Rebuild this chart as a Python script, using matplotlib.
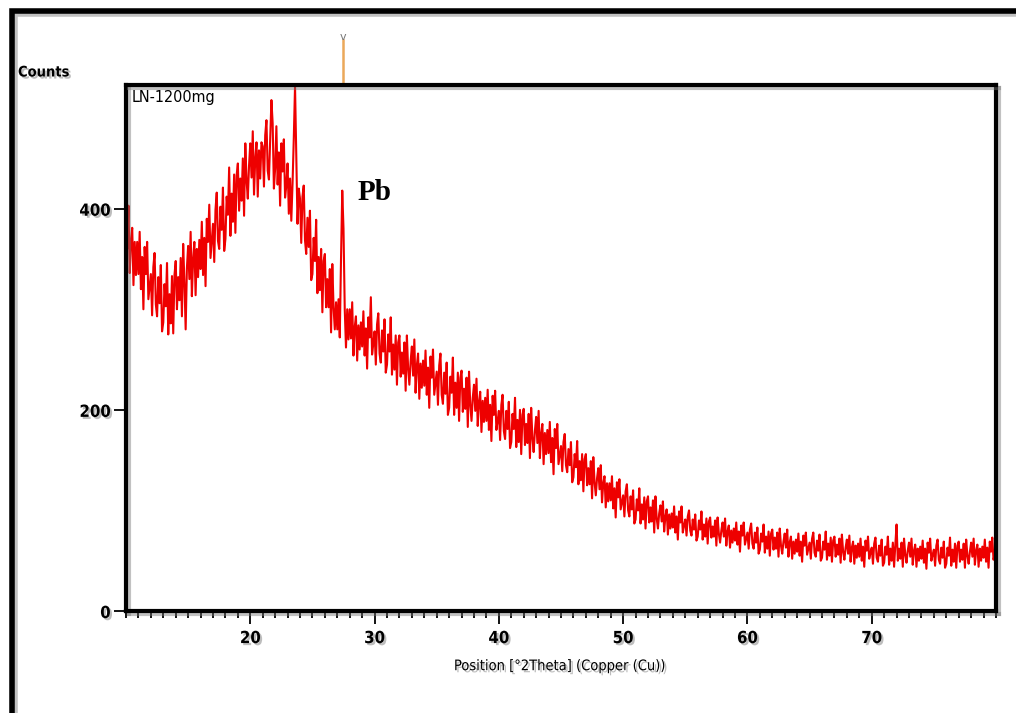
import matplotlib
matplotlib.use("Agg")
import matplotlib.pyplot as plt
import matplotlib.patheffects as pe
from matplotlib.lines import Line2D
from matplotlib.ticker import MultipleLocator
import numpy as np

# ---- data, one row per degree 2theta ----
x_start = 10.0
x_step = 0.1
counts = [
    397, 360, 403, 336, 368, 381, 324, 367, 334, 367,   # 10
    335, 377, 320, 352, 300, 362, 335, 367, 310, 322,   # 11
    335, 294, 342, 356, 305, 293, 332, 306, 344, 278,   # 12
    287, 325, 303, 346, 275, 315, 286, 333, 276, 334,   # 13
    348, 300, 332, 309, 351, 293, 365, 327, 280, 341,   # 14
    363, 330, 377, 313, 350, 367, 314, 360, 332, 369,   # 15
    340, 387, 334, 371, 323, 390, 367, 404, 351, 368,   # 16
    385, 347, 399, 416, 368, 360, 402, 379, 421, 358,   # 17
    370, 412, 394, 441, 373, 415, 387, 434, 376, 433,   # 18
    445, 398, 430, 408, 450, 393, 465, 428, 410, 443,   # 19
    465, 431, 477, 414, 450, 466, 412, 458, 430, 466,   # 20
    462, 422, 473, 488, 438, 429, 469, 508, 485, 420,   # 21
    440, 482, 424, 456, 403, 465, 437, 469, 411, 423,   # 22
    445, 395, 430, 388, 425, 470, 522, 455, 385, 420,   # 23
    410, 366, 412, 423, 369, 355, 391, 362, 398, 329,   # 24
    335, 371, 348, 389, 316, 352, 319, 360, 297, 348,   # 25
    355, 302, 330, 302, 340, 277, 345, 302, 280, 307,   # 26
    280, 310, 272, 350, 418, 380, 300, 262, 300, 270,   # 27
    300, 271, 307, 254, 282, 293, 249, 284, 260, 287,   # 28
    263, 298, 254, 281, 241, 292, 272, 312, 255, 266,   # 29
    278, 245, 285, 296, 256, 247, 279, 258, 290, 237,   # 30
    245, 275, 258, 292, 235, 265, 240, 274, 225, 267,   # 31
    274, 233, 257, 236, 267, 219, 274, 241, 225, 248,   # 32
    263, 234, 270, 217, 244, 256, 211, 246, 222, 249,   # 33
    224, 259, 215, 242, 202, 253, 232, 260, 215, 227,   # 34
    238, 205, 244, 256, 215, 206, 237, 216, 247, 195,   # 35
    202, 233, 217, 252, 195, 227, 202, 237, 189, 232,   # 36
    239, 198, 221, 201, 232, 183, 238, 205, 189, 212,   # 37
    225, 199, 231, 184, 208, 218, 178, 209, 188, 212,   # 38
    189, 220, 180, 205, 169, 214, 195, 219, 180, 189,   # 39
    199, 170, 205, 215, 179, 171, 199, 181, 208, 162,   # 40
    168, 196, 181, 212, 163, 190, 168, 200, 156, 195,   # 41
    201, 165, 186, 167, 196, 152, 202, 172, 158, 179,   # 42
    193, 167, 199, 152, 176, 186, 146, 177, 156, 180,   # 43
    157, 188, 148, 172, 136, 181, 162, 186, 146, 155,   # 44
    164, 139, 168, 176, 145, 138, 161, 145, 168, 128,   # 45
    133, 156, 143, 169, 126, 149, 130, 156, 119, 151,   # 46
    156, 125, 142, 126, 149, 112, 153, 128, 115, 132,   # 47
    142, 121, 145, 108, 127, 134, 103, 127, 109, 127,   # 48
    110, 134, 102, 122, 93, 128, 113, 131, 101, 108,    # 49
    115, 94, 119, 126, 100, 94, 114, 101, 120, 87,      # 50
    91, 111, 100, 122, 87, 106, 91, 113, 82, 109,       # 51
    114, 88, 103, 89, 110, 78, 114, 92, 82, 97,         # 52
    105, 89, 109, 79, 94, 101, 76, 96, 82, 97,          # 53
    83, 104, 78, 94, 71, 99, 88, 104, 78, 85,           # 54
    91, 75, 94, 100, 80, 75, 91, 81, 96, 70,            # 55
    74, 90, 81, 99, 71, 86, 74, 92, 67, 89,             # 56
    93, 73, 84, 74, 90, 65, 93, 77, 68, 80,             # 57
    88, 74, 92, 65, 79, 85, 63, 80, 68, 82,             # 58
    70, 88, 66, 79, 59, 85, 75, 88, 66, 72,             # 59
    78, 62, 81, 87, 67, 62, 78, 68, 83, 57,             # 60
    61, 77, 69, 86, 58, 74, 62, 79, 55, 77,             # 61
    81, 61, 73, 62, 78, 54, 82, 65, 57, 69,             # 62
    77, 63, 81, 54, 68, 74, 52, 69, 57, 71,             # 63
    59, 77, 55, 69, 49, 75, 65, 78, 56, 62,             # 64
    68, 52, 72, 78, 58, 54, 70, 60, 76, 50,             # 65
    53, 69, 61, 79, 51, 67, 55, 73, 49, 70,             # 66
    74, 54, 66, 56, 72, 48, 76, 59, 51, 63,             # 67
    71, 57, 75, 49, 63, 69, 47, 65, 53, 67,             # 68
    54, 72, 50, 64, 44, 70, 60, 74, 52, 58,             # 69
    63, 47, 67, 73, 53, 49, 65, 55, 71, 45,             # 70
    48, 64, 56, 74, 46, 62, 50, 68, 44, 66,             # 71
    86, 50, 62, 52, 68, 44, 72, 56, 48, 60,             # 72
    68, 54, 72, 46, 60, 66, 44, 62, 50, 64,             # 73
    52, 70, 48, 62, 42, 68, 58, 72, 50, 56,             # 74
    61, 45, 65, 71, 51, 47, 63, 53, 69, 43,             # 75
    47, 63, 55, 73, 45, 61, 49, 67, 43, 65,             # 76
    69, 49, 61, 51, 67, 43, 71, 55, 47, 59,             # 77
    68, 54, 72, 46, 60, 66, 44, 62, 50, 64,             # 78
    53, 71, 49, 63, 43, 69, 59, 73, 51, 57,             # 79
    62,
]
two_theta = x_start + x_step * np.arange(len(counts))

x_ticks = [20, 30, 40, 50, 60, 70]
y_ticks = [0, 200, 400]
sample_label = "LN-1200mg"
peak_label = "Pb"
peak_label_pos = (28.6, 409)
peak_pos = 27.45
x_label = "Position [°2Theta] (Copper (Cu))"
y_label = "Counts"

# ---- style ----
FONT = ["DejaVu Sans"]
shadow_txt = [pe.SimplePatchShadow(offset=(1.5, -1.5), shadow_rgbFace="#888888", alpha=0.55), pe.Normal()]
shadow_line = [pe.SimpleLineShadow(offset=(2.5, -2.5), shadow_color="#777777", alpha=0.45), pe.Normal()]

fig = plt.figure(figsize=(10.16, 7.13), dpi=100)
fig.patch.set_facecolor("white")
ax = fig.add_axes([126 / 1016, 1 - 611 / 713, 870 / 1016, 526 / 713])

ax.plot(two_theta, counts, color="#ee0000", lw=1.5)

ax.set_xlim(10, 80)
ax.set_ylim(0, 523)
ax.set_xticks(x_ticks)
ax.set_yticks(y_ticks)
ax.xaxis.set_minor_locator(MultipleLocator(1))

for sp in ax.spines.values():
    sp.set_linewidth(3)
    sp.set_color("black")
    sp.set_path_effects(shadow_line)

ax.tick_params(axis="x", which="major", direction="out", length=9, width=1.3, pad=4)
ax.tick_params(axis="x", which="minor", direction="out", length=5, width=1.3)
ax.tick_params(axis="y", which="major", direction="out", length=9, width=1.3, pad=2)
for lab in ax.get_xticklabels() + ax.get_yticklabels():
    lab.set_fontfamily(FONT)
    lab.set_fontstretch("condensed")
    lab.set_fontsize(12)
    lab.set_fontweight("bold")
    lab.set_path_effects(shadow_txt)

ax.set_xlabel(x_label, fontfamily=FONT, fontstretch="condensed", fontsize=10.5,
              labelpad=8, path_effects=shadow_txt)

ax.text(0.006, 0.99, sample_label, transform=ax.transAxes, ha="left", va="top",
        fontfamily=FONT, fontstretch="condensed", fontsize=11.5)
ax.text(peak_label_pos[0], peak_label_pos[1], peak_label, ha="left", va="baseline",
        fontfamily="Liberation Serif", fontweight="bold", fontsize=21)

# reference marker above the frame
trans = ax.get_xaxis_transform()
ax.plot([peak_pos, peak_pos], [1.0, 1.085], transform=trans, color="#eba85a", lw=1.8,
        clip_on=False)
ax.text(peak_pos, 1.082, "v", transform=trans, ha="center", va="bottom", color="#777777",
        fontsize=8, clip_on=False)

fig.text(18 / 1016, 1 - 72 / 713, y_label, ha="left", va="center", fontfamily=FONT,
         fontstretch="condensed", fontsize=10.5, fontweight="bold", path_effects=shadow_txt)

# outer frame (only left and top edges visible)
fx = 12 / 1016
fy = 1 - 11 / 713
frame = Line2D([fx, fx, 1.02], [-0.02, fy, fy], transform=fig.transFigure, color="black",
               lw=4, solid_joinstyle="miter", path_effects=shadow_line)
fig.add_artist(frame)

fig.savefig("out.png", dpi=100, facecolor="white")
